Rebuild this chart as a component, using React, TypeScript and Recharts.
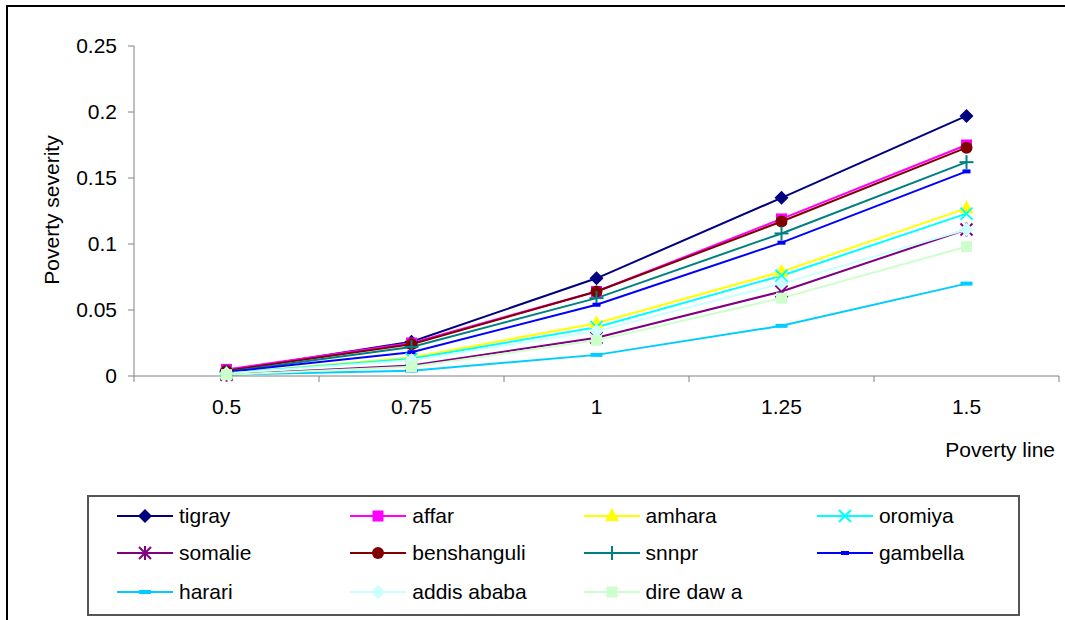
import React from "react";
import { LineChart, Line, XAxis, YAxis, Label } from "recharts";

// Poverty severity by region across poverty lines
const povertyLines = [0.5, 0.75, 1, 1.25, 1.5];
const severityTicks = [0, 0.05, 0.1, 0.15, 0.2, 0.25];

const regionNames = [
  "tigray",
  "affar",
  "amhara",
  "oromiya",
  "somalie",
  "benshanguli",
  "snnpr",
  "gambella",
  "harari",
  "addis ababa",
  "dire daw a",
];

const tigray = [0.004, 0.026, 0.074, 0.135, 0.197];
const affar = [0.005, 0.025, 0.064, 0.119, 0.175];
const amhara = [0.002, 0.014, 0.04, 0.079, 0.127];
const oromiya = [0.002, 0.013, 0.037, 0.076, 0.123];
const somalie = [0.001, 0.008, 0.029, 0.064, 0.111];
const benshanguli = [0.004, 0.024, 0.064, 0.117, 0.173];
const snnpr = [0.003, 0.022, 0.059, 0.108, 0.162];
const gambella = [0.003, 0.018, 0.054, 0.101, 0.155];
const harari = [0.001, 0.004, 0.016, 0.038, 0.07];
const addisAbaba = [0.002, 0.012, 0.034, 0.07, 0.111];
const direDawa = [0.001, 0.007, 0.027, 0.059, 0.098];

const regionValues = [
  tigray,
  affar,
  amhara,
  oromiya,
  somalie,
  benshanguli,
  snnpr,
  gambella,
  harari,
  addisAbaba,
  direDawa,
];

type Shape =
  | "diamond"
  | "square"
  | "triangle"
  | "x"
  | "star"
  | "circle"
  | "plus"
  | "dash"
  | "longdash";

const styles: { color: string; shape: Shape }[] = [
  { color: "#000080", shape: "diamond" },
  { color: "#FF00FF", shape: "square" },
  { color: "#FFFF00", shape: "triangle" },
  { color: "#00FFFF", shape: "x" },
  { color: "#800080", shape: "star" },
  { color: "#800000", shape: "circle" },
  { color: "#008080", shape: "plus" },
  { color: "#0000FF", shape: "dash" },
  { color: "#00CCFF", shape: "longdash" },
  { color: "#CCFFFF", shape: "diamond" },
  { color: "#CCFFCC", shape: "square" },
];

const FONT = '"Liberation Sans", Arial, sans-serif';
const FONT_SIZE = 21;
const AXIS_COLOR = "#808080";

const W = 1065;
const H = 620;
const PLOT_LEFT = 134;
const PLOT_RIGHT = 1059;
const HALF_BAND = (PLOT_RIGHT - PLOT_LEFT) / povertyLines.length / 2;

const data = povertyLines.map((line, i) => {
  const row: Record<string, number> = { line };
  regionNames.forEach((name, k) => {
    row[name] = regionValues[k][i];
  });
  return row;
});

function Marker({ cx, cy, color, shape }: { cx: number; cy: number; color: string; shape: Shape }) {
  switch (shape) {
    case "diamond":
      return (
        <polygon
          points={`${cx},${cy - 7} ${cx + 7},${cy} ${cx},${cy + 7} ${cx - 7},${cy}`}
          fill={color}
        />
      );
    case "square":
      return <rect x={cx - 5.5} y={cy - 5.5} width={11} height={11} fill={color} />;
    case "triangle":
      return (
        <polygon
          points={`${cx},${cy - 8} ${cx + 7},${cy + 5} ${cx - 7},${cy + 5}`}
          fill={color}
        />
      );
    case "x":
      return (
        <g stroke={color} strokeWidth={2}>
          <line x1={cx - 6} y1={cy - 6} x2={cx + 6} y2={cy + 6} />
          <line x1={cx - 6} y1={cy + 6} x2={cx + 6} y2={cy - 6} />
        </g>
      );
    case "star":
      return (
        <g stroke={color} strokeWidth={2}>
          <line x1={cx - 6} y1={cy - 6} x2={cx + 6} y2={cy + 6} />
          <line x1={cx - 6} y1={cy + 6} x2={cx + 6} y2={cy - 6} />
          <line x1={cx} y1={cy - 7} x2={cx} y2={cy + 7} />
        </g>
      );
    case "circle":
      return <circle cx={cx} cy={cy} r={6} fill={color} />;
    case "plus":
      return (
        <g stroke={color} strokeWidth={2}>
          <line x1={cx - 7} y1={cy} x2={cx + 7} y2={cy} />
          <line x1={cx} y1={cy - 7} x2={cx} y2={cy + 7} />
        </g>
      );
    case "dash":
      return <rect x={cx - 4} y={cy - 2} width={8} height={4} fill={color} />;
    case "longdash":
      return <rect x={cx - 6} y={cy - 2} width={12} height={4} fill={color} />;
  }
  return null;
}

// Category labels centred on each point, tick marks on the band edges
function XTick(props: any) {
  const { x, y, payload, index } = props;
  const last = index === povertyLines.length - 1;
  return (
    <g>
      <line x1={x - HALF_BAND} y1={y} x2={x - HALF_BAND} y2={y + 6} stroke={AXIS_COLOR} />
      {last && <line x1={x + HALF_BAND} y1={y} x2={x + HALF_BAND} y2={y + 6} stroke={AXIS_COLOR} />}
      <text x={x} y={y + 38} textAnchor="middle" fill="#000" fontSize={FONT_SIZE} fontFamily={FONT}>
        {String(payload.value)}
      </text>
    </g>
  );
}

export default function App() {
  return (
    <div
      style={{
        position: "absolute",
        left: 0,
        top: 0,
        width: W,
        height: H,
        overflow: "hidden",
        background: "#fff",
        fontFamily: FONT,
      }}
    >
      <div
        style={{
          position: "absolute",
          left: 6,
          top: 5,
          width: W + 40,
          height: H + 40,
          border: "2px solid #000",
        }}
      />
      <div style={{ position: "absolute", left: 0, top: 0 }}>
        <LineChart width={W} height={H} data={data} margin={{ top: 46, right: W - PLOT_RIGHT, left: 0, bottom: 160 }}>
          <XAxis
            dataKey="line"
            type="number"
            domain={[0.375, 1.625]}
            ticks={povertyLines}
            tickLine={false}
            tickSize={0}
            tickMargin={0}
            height={84}
            axisLine={{ stroke: AXIS_COLOR }}
            tick={<XTick />}
            interval={0}
          >
            <Label
              content={() => (
                <text x={1055} y={457} textAnchor="end" fill="#000" fontSize={FONT_SIZE} fontFamily={FONT}>
                  Poverty line
                </text>
              )}
            />
          </XAxis>
          <YAxis
            width={PLOT_LEFT}
            domain={[0, 0.25]}
            ticks={severityTicks}
            interval={0}
            tickSize={6}
            tickMargin={11}
            axisLine={{ stroke: AXIS_COLOR }}
            tickLine={{ stroke: AXIS_COLOR }}
            tick={{ fill: "#000", fontSize: FONT_SIZE, fontFamily: FONT }}
          >
            <Label
              content={() => (
                <text
                  x={51}
                  y={210}
                  transform="rotate(-90 51 210)"
                  textAnchor="middle"
                  dominantBaseline="central"
                  fill="#000"
                  fontSize={FONT_SIZE}
                  fontFamily={FONT}
                >
                  Poverty severity
                </text>
              )}
            />
          </YAxis>
          {regionNames.map((name, k) => (
            <Line
              key={name}
              type="linear"
              dataKey={name}
              stroke={styles[k].color}
              strokeWidth={2}
              isAnimationActive={false}
              activeDot={false}
              dot={(p: any) => (
                <Marker
                  key={`${name}-${p.index}`}
                  cx={p.cx}
                  cy={p.cy}
                  color={styles[k].color}
                  shape={styles[k].shape}
                />
              )}
            />
          ))}
        </LineChart>
      </div>
      {/* legend box */}
      <div
        style={{
          position: "absolute",
          left: 87,
          top: 495,
          width: 933,
          height: 121,
          boxSizing: "border-box",
          border: "2px solid #555",
        }}
      />
      {regionNames.map((name, k) => {
        const col = k % 4;
        const row = Math.floor(k / 4);
        const left = 117 + col * 233.3;
        const top = [516, 553, 592][row];
        return (
          <div
            key={name}
            style={{
              position: "absolute",
              left,
              top: top - 12,
              height: 24,
              display: "flex",
              alignItems: "center",
              whiteSpace: "nowrap",
            }}
          >
            <svg width={56} height={24} style={{ display: "block" }}>
              <line x1={0} y1={12} x2={56} y2={12} stroke={styles[k].color} strokeWidth={2} />
              <Marker cx={28} cy={12} color={styles[k].color} shape={styles[k].shape} />
            </svg>
            <span style={{ marginLeft: 6, fontSize: FONT_SIZE, color: "#000", lineHeight: "24px" }}>{name}</span>
          </div>
        );
      })}
    </div>
  );
}
